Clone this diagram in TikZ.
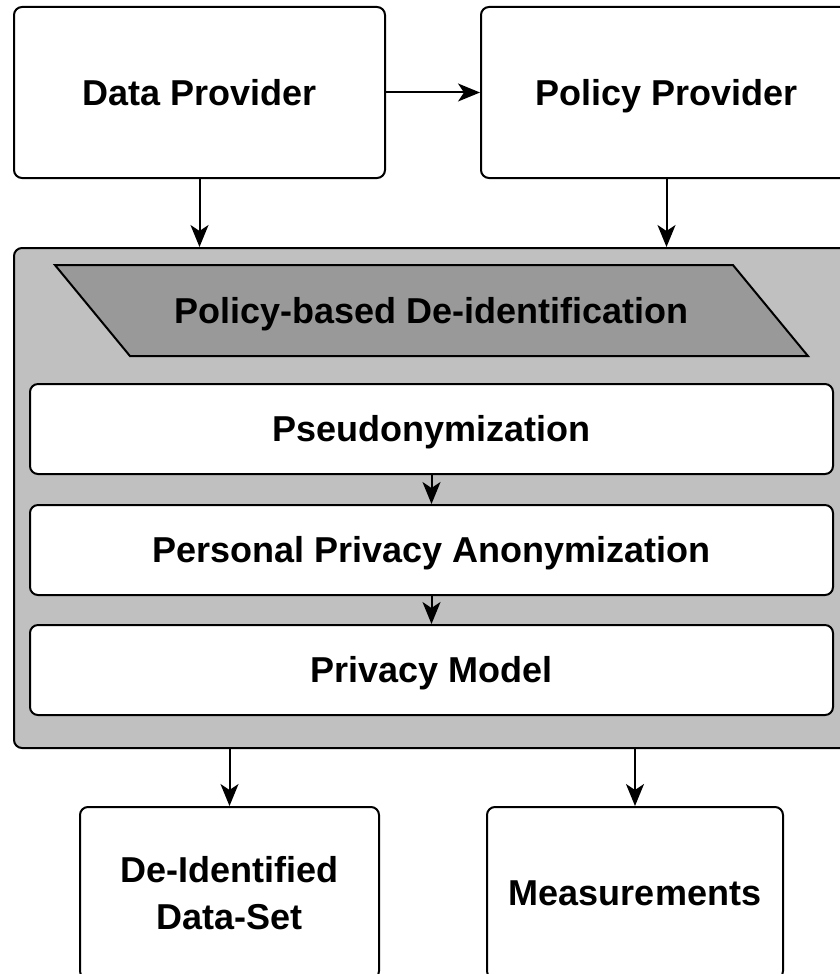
\documentclass[tikz,border=0pt]{standalone}
\usepackage{fontspec}
\setmainfont{Liberation Sans}
\usetikzlibrary{arrows.meta,positioning,shapes.geometric}
\definecolor{boxgray}{HTML}{C0C0C0}
\definecolor{bandgray}{HTML}{999999}
\tikzset{main base/.style={draw,line width=1pt,text centered,font=\fontsize{18}{23.5}\selectfont\bfseries}, }
\tikzset{one line/.style={text height=12.9pt,text depth=0pt}, }
\tikzset{main node/.style={rectangle,rounded corners=4pt,fill=white,main base}, }
\tikzset{main node2/.style={main node,one line,minimum width=185.5pt,minimum height=85.5pt}, }
\tikzset{main step/.style={main node,one line,minimum width=401.5pt,minimum height=45pt}, }
\tikzset{main out/.style={main node,minimum height=86pt,align=center}, }
\tikzset{frame/.style={rectangle,draw,rounded corners=4pt,line width=1pt,fill=boxgray,
    minimum width=417.5pt,minimum height=250pt}, }
\tikzset{band/.style={ % requires library shapes.geometric
    trapezium,
    trapezium left angle=129.5,
    trapezium right angle=50.5,
    trapezium stretches body,
    one line,inner ysep=16.3pt,
    minimum width=376.5pt,minimum height=45.5pt,
    fill=bandgray,main base}, }
\tikzset{linea/.style={-{Stealth[length=11pt,width=9pt,inset=3pt]},line width=1pt,draw}}

\begin{document}
\begin{tikzpicture}
  \useasboundingbox (0,0) rectangle (420pt,-487pt);
  \clip (0,0) rectangle (420pt,-487pt);
    \node[main node2] (1) at (99.75pt,-46.25pt) {Data Provider};
    \node[main node2] (2) [right =47pt of 1] {Policy Provider};
    \node[frame] (3) [below right =34pt and 0pt of 1.south west] {};
    \node[band] (4) [below =8.5pt of 3.north] {Policy-based De-identification};
    \node[main step] (5) [below =13pt of 4] {Pseudonymization};
    \node[main step] (6) [below =14.5pt of 5] {Personal Privacy Anonymization};
    \node[main step] (7) [below =14pt of 6] {Privacy Model};
    %\node[main out] (8) [below =of 3] {};
    \node[main out,minimum width=149.5pt] (8) [below right =28.5pt and 33pt of 3.south west] {De-Identified\\Data-Set};
    \node[main out,minimum width=148pt] (9) [right =53pt of 8] {Measurements};
    \path[linea] (1) edge (2);
    \foreach \x in {1,2}
      \path[linea] (\x) edge (\x |- 3.north);
    \foreach \x /\y in {5/6,6/7}
      \path[linea] (\x) edge (\y);
    \foreach \y in {8,9}
      \draw[linea] (\y |- 3.south) -- (\y);
\end{tikzpicture}
\end{document}
